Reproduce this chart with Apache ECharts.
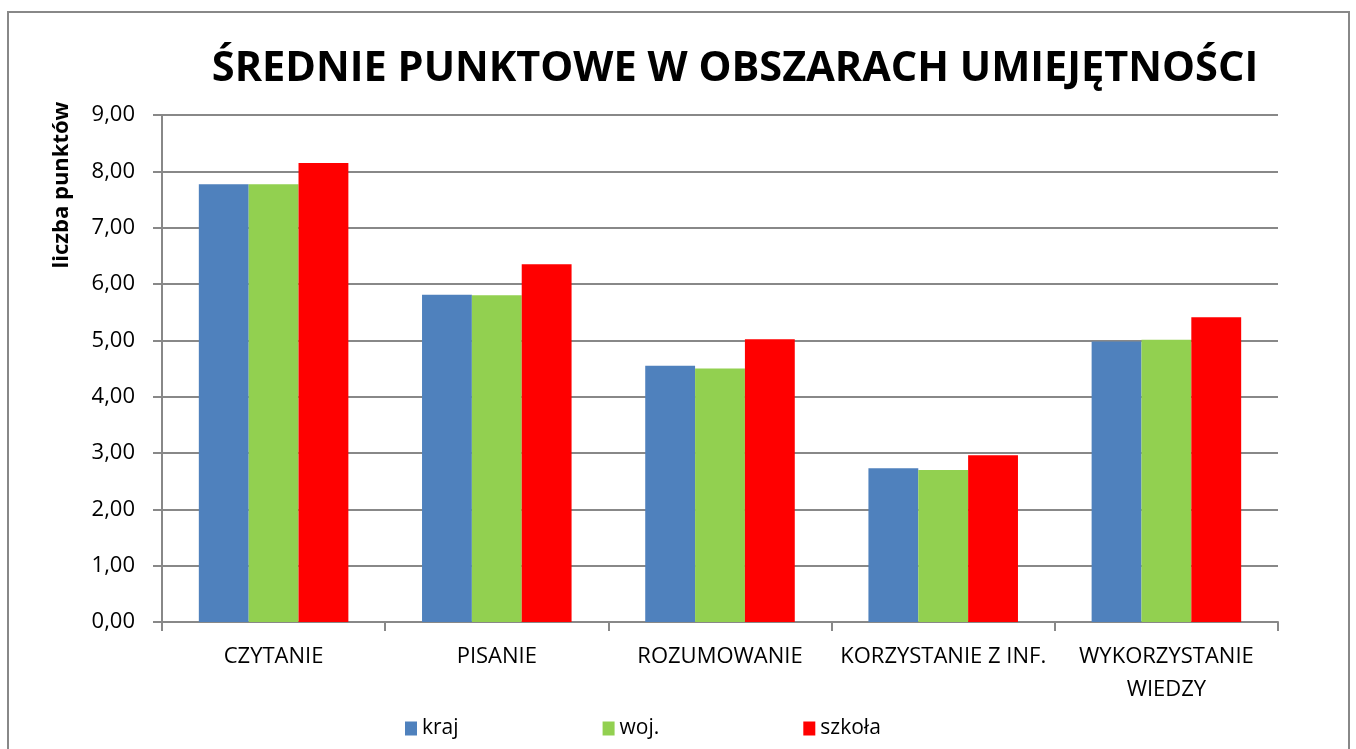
<!DOCTYPE html>
<html>
<head>
<meta charset="utf-8">
<script src="https://cdn.jsdelivr.net/npm/echarts@6/dist/echarts.min.js"></script>
<style>
  html, body { margin: 0; padding: 0; background: #fff; }
  #chart { width: 1356px; height: 749px; }
  .frame {
    position: absolute; left: 7px; top: 11px; width: 1343px; height: 760px;
    border: 2px solid #888; box-sizing: border-box; pointer-events: none;
  }
</style>
</head>
<body>
<div id="chart"></div>
<div class="frame"></div>
<script>
// dane
const categories = ['CZYTANIE', 'PISANIE', 'ROZUMOWANIE', 'KORZYSTANIE Z INF.', 'WYKORZYSTANIE\nWIEDZY'];
const kraj = [7.77, 5.81, 4.55, 2.73, 4.98];
const woj = [7.77, 5.80, 4.50, 2.70, 5.01];
const szkola = [8.15, 6.35, 5.02, 2.96, 5.41];
const yTicks = { min: 0, max: 9, interval: 1 };

const font = '"Open Sans", "Noto Sans", sans-serif';
const chart = echarts.init(document.getElementById('chart'));

chart.setOption({
  animation: false,
  color: ['#4f81bd', '#92d050', '#ff0000'],
  title: {
    text: 'ŚREDNIE PUNKTOWE W OBSZARACH UMIEJĘTNOŚCI',
    left: 730, top: 43, textAlign: 'center',
    textStyle: { fontFamily: font, fontSize: 41.5, fontWeight: 'bold', color: '#000' }
  },
  graphic: [{
    type: 'text', x: 62, y: 185, rotation: Math.PI / 2,
    style: {
      text: 'liczba punktów', font: 'bold 22px ' + font, fill: '#000',
      textAlign: 'center', textVerticalAlign: 'middle'
    }
  }],
  legend: {
    data: ['kraj', 'woj.', 'szkoła'],
    left: 400, top: 713,
    icon: 'rect', itemWidth: 12, itemHeight: 14, itemGap: 144,
    textStyle: { fontFamily: font, fontSize: 21, color: '#000' }
  },
  grid: { left: 162, right: 78, top: 115, bottom: 127 },
  xAxis: {
    type: 'category',
    data: categories,
    axisLine: { lineStyle: { color: '#888', width: 2 } },
    axisTick: { show: true, length: 9, lineStyle: { color: '#888', width: 2 } },
    axisLabel: { fontFamily: font, fontSize: 22, color: '#000', margin: 18, lineHeight: 33, interval: 0 }
  },
  yAxis: {
    type: 'value',
    min: yTicks.min, max: yTicks.max, interval: yTicks.interval,
    axisLine: { show: true, lineStyle: { color: '#888', width: 2 } },
    axisTick: { show: true, length: 9, lineStyle: { color: '#888', width: 2 } },
    splitLine: { lineStyle: { color: '#888', width: 2 } },
    axisLabel: {
      fontFamily: font, fontSize: 22, color: '#000', margin: 27,
      formatter: v => v.toFixed(2).replace('.', ',')
    }
  },
  series: [
    { name: 'kraj', type: 'bar', data: kraj, barGap: '0%', barCategoryGap: '33%' },
    { name: 'woj.', type: 'bar', data: woj },
    { name: 'szkoła', type: 'bar', data: szkola }
  ]
});
</script>
</body>
</html>
